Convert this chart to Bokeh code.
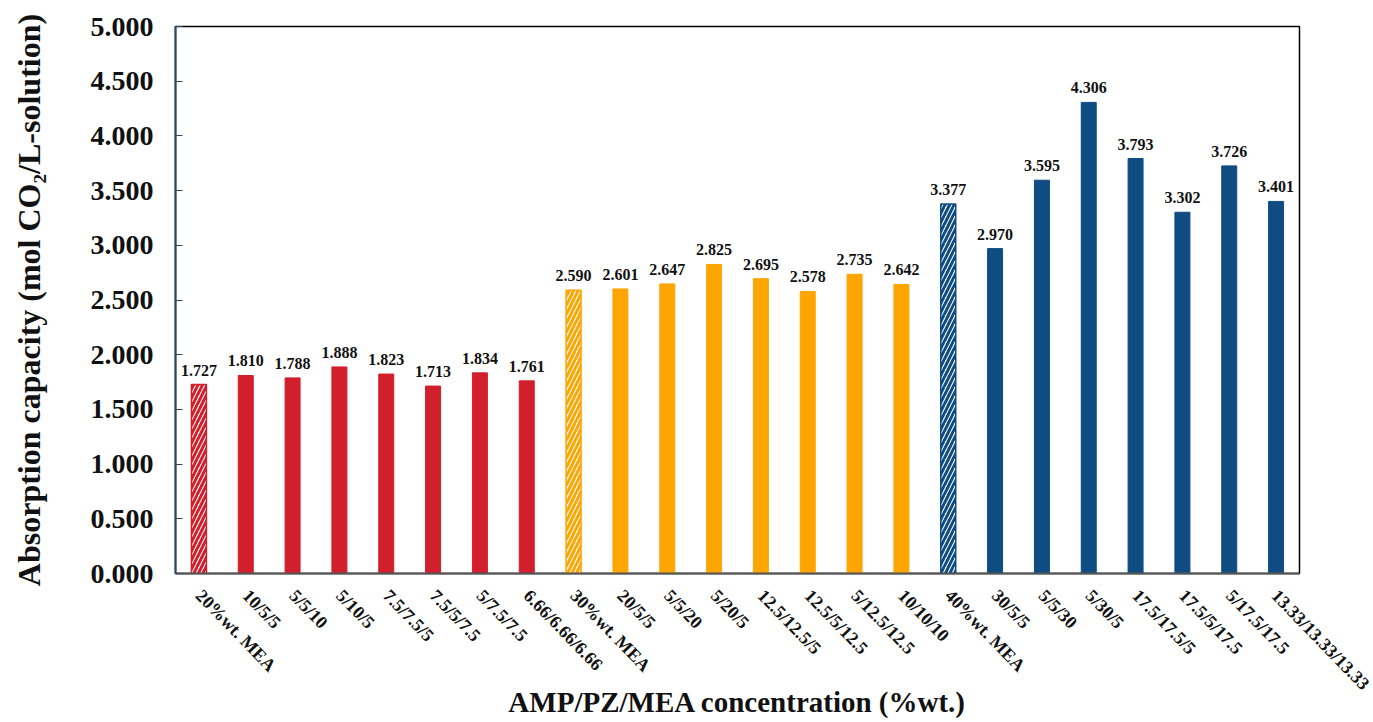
from bokeh.plotting import figure
from bokeh.models import ColumnDataSource, FactorRange, Range1d, NumeralTickFormatter, FixedTicker, LabelSet
from bokeh.embed import file_html
from bokeh.resources import INLINE

# Blend compositions (AMP/PZ/MEA, %wt.) and measured absorption capacity
categories = [
    "20%wt. MEA", "10/5/5", "5/5/10", "5/10/5", "7.5/7.5/5", "7.5/5/7.5", "5/7.5/7.5", "6.66/6.66/6.66",
    "30%wt. MEA", "20/5/5", "5/5/20", "5/20/5", "12.5/12.5/5", "12.5/5/12.5", "5/12.5/12.5", "10/10/10",
    "40%wt. MEA", "30/5/5", "5/5/30", "5/30/5", "17.5/17.5/5", "17.5/5/17.5", "5/17.5/17.5", "13.33/13.33/13.33",
]
capacity = [
    1.727, 1.810, 1.788, 1.888, 1.823, 1.713, 1.834, 1.761,
    2.590, 2.601, 2.647, 2.825, 2.695, 2.578, 2.735, 2.642,
    3.377, 2.970, 3.595, 4.306, 3.793, 3.302, 3.726, 3.401,
]
# total amine loading group of each bar (20, 30 or 40 %wt.)
group = [20] * 8 + [30] * 8 + [40] * 8
# MEA-only reference solutions are shown hatched
reference = ["MEA" in c for c in categories]

group_colors = {20: "#D11F2B", 30: "#FFA502", 40: "#0F4C81"}
y_ticks = [0.0, 0.5, 1.0, 1.5, 2.0, 2.5, 3.0, 3.5, 4.0, 4.5, 5.0]

colors = [group_colors[g] for g in group]
labels = [f"{v:.3f}" for v in capacity]

solid = ColumnDataSource(dict(
    x=[c for c, r in zip(categories, reference) if not r],
    top=[v for v, r in zip(capacity, reference) if not r],
    color=[c for c, r in zip(colors, reference) if not r],
))
hatched = ColumnDataSource(dict(
    x=[c for c, r in zip(categories, reference) if r],
    top=[v for v, r in zip(capacity, reference) if r],
    color=[c for c, r in zip(colors, reference) if r],
))
label_src = ColumnDataSource(dict(x=categories, y=capacity, text=labels))

p = figure(
    width=1373, height=722,
    x_range=FactorRange(*categories, range_padding=0),
    y_range=Range1d(0, 5),
    output_backend="svg", toolbar_location=None,
    min_border_left=175, min_border_right=74, min_border_top=26, min_border_bottom=149,
)

p.vbar(x="x", top="top", width=0.32, source=solid, fill_color="color", line_color="color")
p.vbar(x="x", top="top", width=0.32, source=hatched, fill_color="white", line_color="color",
       line_width=1.5, hatch_pattern="/", hatch_color="color", hatch_scale=9, hatch_weight=3)

p.add_layout(LabelSet(x="x", y="y", text="text", source=label_src, text_align="center",
                      text_baseline="bottom", y_offset=9, text_font="Liberation Serif",
                      text_font_style="bold", text_font_size="16px", text_color="#111111"))

font = "Liberation Serif"
p.xgrid.visible = False
p.ygrid.visible = False
p.outline_line_color = "black"
p.outline_line_width = 1.5

p.yaxis.ticker = FixedTicker(ticks=y_ticks)
p.yaxis.formatter = NumeralTickFormatter(format="0.000")
p.yaxis.major_tick_in = 7
p.yaxis.major_tick_out = 0
p.yaxis.minor_tick_line_color = None
p.yaxis.axis_line_color = "#2E4A66"
p.yaxis.axis_line_width = 2
p.yaxis.major_tick_line_color = "#2E4A66"
p.yaxis.major_label_standoff = 22
p.yaxis.major_label_text_font = font
p.yaxis.major_label_text_font_style = "bold"
p.yaxis.major_label_text_font_size = "28px"
p.yaxis.major_label_text_color = "#111111"
p.yaxis.axis_label = "Absorption capacity (mol CO\u2082/L-solution)"
p.yaxis.axis_label_text_font = font
p.yaxis.axis_label_text_font_style = "bold"
p.yaxis.axis_label_text_font_size = "32px"
p.yaxis.axis_label_text_color = "#111111"
p.yaxis.axis_label_standoff = 41

p.xaxis.major_tick_line_color = None
p.xaxis.minor_tick_line_color = None
p.xaxis.axis_line_color = "#555555"
p.xaxis.axis_line_width = 2
p.xaxis.major_label_orientation = -0.8
p.xaxis.major_label_standoff = 13
p.xaxis.major_label_text_font = font
p.xaxis.major_label_text_font_style = "bold"
p.xaxis.major_label_text_font_size = "18px"
p.xaxis.major_label_text_color = "#111111"
p.xaxis.axis_label = "AMP/PZ/MEA concentration (%wt.)"
p.xaxis.axis_label_text_font = font
p.xaxis.axis_label_text_font_style = "bold"
p.xaxis.axis_label_text_font_size = "29px"
p.xaxis.axis_label_text_color = "#111111"
p.xaxis.axis_label_standoff = -18

open("out.html", "w").write(file_html(p, INLINE))
